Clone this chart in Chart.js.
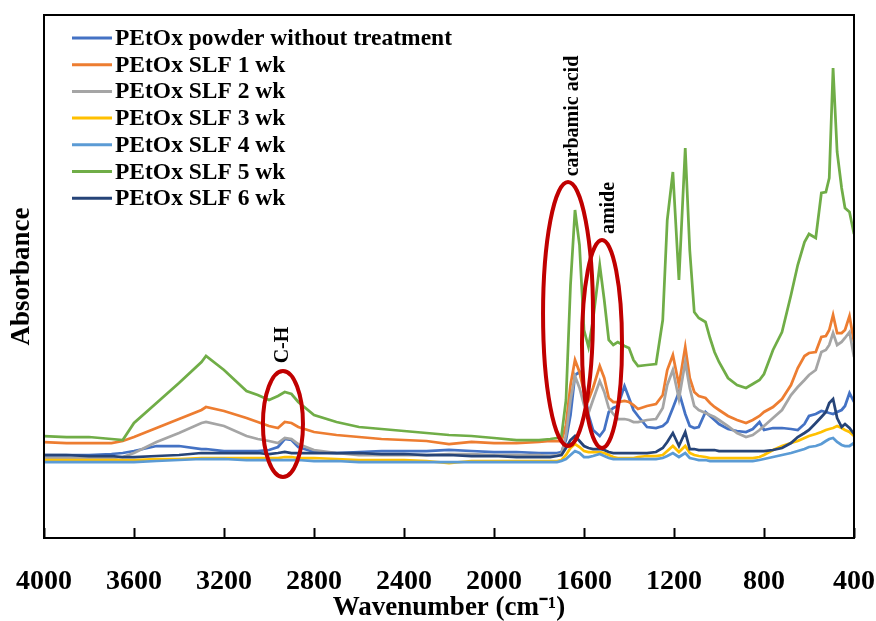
<!DOCTYPE html>
<html>
<head>
<meta charset="utf-8">
<title>PEtOx FTIR spectra</title>
<script src="https://cdn.jsdelivr.net/npm/chart.js@4.4.1/dist/chart.umd.min.js"></script>
<style>
  html, body { margin: 0; padding: 0; background: #fff; }
  #wrap { width: 876px; height: 621px; }
</style>
</head>
<body>
<div id="wrap"><canvas id="ftir-chart"></canvas></div>
<script>
var SERIF = "'Liberation Serif', 'Times New Roman', serif";

// wavenumber grid shared by every spectrum (cm-1)
var wavenumbers = [
  4000, 3900, 3800, 3700, 3650, 3600, 3500, 3400, 3300, 3280,
  3200, 3100, 3050, 3000, 2960, 2930, 2900, 2870, 2800, 2700,
  2600, 2500, 2400, 2300, 2200, 2100, 2000, 1900, 1800, 1750,
  1720, 1700, 1680, 1660, 1640, 1620, 1600, 1580, 1560, 1530,
  1510, 1490, 1470, 1450, 1420, 1400, 1380, 1360, 1320, 1280,
  1250, 1230, 1205, 1178, 1150, 1130, 1110, 1090, 1060, 1040,
  1020, 1000, 960, 920, 880, 850, 820, 800, 760, 720,
  680, 650, 620, 600, 570, 545, 525, 510, 493, 475,
  455, 440, 420, 400
];

// absorbance (arbitrary units)
var powder = [
  0.83, 0.83, 0.83, 0.84, 0.85, 0.87, 0.92, 0.92, 0.89, 0.89,
  0.87, 0.87, 0.87, 0.88, 0.91, 0.99, 0.98, 0.91, 0.86, 0.85,
  0.86, 0.87, 0.87, 0.87, 0.88, 0.87, 0.86, 0.86, 0.85, 0.85,
  0.85, 0.86, 0.98, 1.23, 1.63, 1.66, 1.51, 1.23, 1.08, 1.02,
  1.08, 1.26, 1.30, 1.32, 1.52, 1.40, 1.28, 1.22, 1.11, 1.10,
  1.12, 1.16, 1.30, 1.46, 1.24, 1.12, 1.10, 1.11, 1.26, 1.22,
  1.18, 1.14, 1.09, 1.07, 1.06, 1.09, 1.16, 1.08, 1.10, 1.10,
  1.09, 1.08, 1.14, 1.22, 1.24, 1.27, 1.26, 1.25, 1.24, 1.26,
  1.28, 1.32, 1.45, 1.36
];
var slf1wk = [
  0.96, 0.95, 0.95, 0.95, 0.97, 1.01, 1.10, 1.19, 1.28, 1.31,
  1.27, 1.20, 1.16, 1.12, 1.10, 1.16, 1.15, 1.11, 1.06, 1.03,
  1.01, 0.99, 0.98, 0.97, 0.94, 0.96, 0.95, 0.95, 0.96, 0.97,
  0.97, 0.97, 1.13, 1.53, 1.78, 1.66, 1.46, 1.38, 1.50, 1.72,
  1.60, 1.40, 1.36, 1.36, 1.37, 1.36, 1.33, 1.29, 1.32, 1.34,
  1.43, 1.68, 1.83, 1.53, 1.91, 1.60, 1.46, 1.42, 1.40, 1.35,
  1.31, 1.28, 1.22, 1.18, 1.15, 1.18, 1.22, 1.26, 1.31, 1.39,
  1.53, 1.70, 1.82, 1.85, 1.86, 2.01, 2.02, 2.08, 2.23, 2.05,
  2.05, 2.08, 2.22, 1.96
];
var slf2wk = [
  0.80, 0.80, 0.80, 0.80, 0.81, 0.85, 0.96, 1.05, 1.15, 1.16,
  1.12, 1.02, 0.99, 0.97, 0.95, 1.00, 0.99, 0.94, 0.88, 0.85,
  0.83, 0.83, 0.83, 0.83, 0.84, 0.84, 0.83, 0.83, 0.83, 0.82,
  0.83, 0.84, 1.03, 1.38, 1.62, 1.50, 1.33, 1.25, 1.38, 1.57,
  1.46, 1.30, 1.24, 1.19, 1.19, 1.18, 1.16, 1.16, 1.18, 1.19,
  1.30, 1.53, 1.68, 1.39, 1.76, 1.50, 1.32, 1.28, 1.25, 1.23,
  1.21, 1.18, 1.12, 1.05, 1.01, 1.03, 1.08, 1.12, 1.20, 1.28,
  1.43, 1.51, 1.58, 1.63, 1.68, 1.86, 1.88, 1.93, 2.05, 1.93,
  1.96, 2.00, 2.06, 1.81
];
var slf3wk = [
  0.78, 0.78, 0.78, 0.78, 0.78, 0.78, 0.79, 0.79, 0.80, 0.80,
  0.80, 0.80, 0.80, 0.80, 0.80, 0.81, 0.81, 0.80, 0.80, 0.79,
  0.78, 0.78, 0.78, 0.77, 0.75, 0.77, 0.77, 0.77, 0.77, 0.77,
  0.77, 0.78, 0.83, 0.90, 0.94, 0.91, 0.87, 0.86, 0.86, 0.86,
  0.85, 0.83, 0.81, 0.80, 0.80, 0.80, 0.80, 0.81, 0.82, 0.82,
  0.83, 0.87, 0.92, 0.86, 0.92, 0.85, 0.83, 0.82, 0.81, 0.80,
  0.80, 0.80, 0.80, 0.80, 0.80, 0.80, 0.81, 0.83, 0.88, 0.92,
  0.95, 0.97, 1.00, 1.02, 1.04, 1.06, 1.08, 1.09, 1.10, 1.12,
  1.10, 1.08, 1.06, 1.02
];
var slf4wk = [
  0.76, 0.76, 0.76, 0.76, 0.76, 0.76, 0.77, 0.78, 0.79, 0.79,
  0.79, 0.78, 0.78, 0.78, 0.78, 0.78, 0.78, 0.78, 0.77, 0.77,
  0.76, 0.76, 0.76, 0.76, 0.76, 0.76, 0.76, 0.76, 0.76, 0.76,
  0.76, 0.77, 0.79, 0.83, 0.87, 0.85, 0.81, 0.81, 0.82, 0.84,
  0.82, 0.80, 0.79, 0.79, 0.79, 0.79, 0.79, 0.79, 0.79, 0.79,
  0.80, 0.82, 0.85, 0.81, 0.85, 0.80, 0.79, 0.78, 0.78, 0.77,
  0.77, 0.77, 0.77, 0.77, 0.77, 0.77, 0.78, 0.79, 0.81, 0.83,
  0.85, 0.87, 0.89, 0.91, 0.92, 0.94, 0.97, 0.99, 1.00, 0.96,
  0.93, 0.92, 0.92, 0.95
];
var slf5wk = [
  1.02, 1.01, 1.01, 0.99, 0.98, 1.15, 1.35, 1.55, 1.76, 1.82,
  1.68, 1.47, 1.43, 1.38, 1.42, 1.46, 1.44, 1.36, 1.23, 1.16,
  1.11, 1.09, 1.07, 1.05, 1.03, 1.02, 1.00, 0.98, 0.98, 0.99,
  1.00, 1.02, 1.38, 2.53, 3.28, 2.93, 2.08, 1.91, 2.18, 2.73,
  2.38, 1.98, 1.93, 1.96, 1.92, 1.90, 1.78, 1.72, 1.73, 1.74,
  2.18, 3.18, 3.66, 2.58, 3.90, 2.88, 2.26, 2.20, 2.16, 2.00,
  1.86, 1.76, 1.60, 1.53, 1.50, 1.54, 1.58, 1.64, 1.88, 2.06,
  2.43, 2.73, 2.96, 3.04, 3.00, 3.45, 3.46, 3.60, 4.70, 3.86,
  3.50, 3.30, 3.26, 3.04
];
var slf6wk = [
  0.83, 0.83, 0.82, 0.82, 0.81, 0.81, 0.82, 0.83, 0.85, 0.85,
  0.85, 0.85, 0.85, 0.84, 0.85, 0.86, 0.85, 0.85, 0.85, 0.85,
  0.85, 0.84, 0.84, 0.83, 0.83, 0.82, 0.82, 0.81, 0.81, 0.81,
  0.82, 0.83, 0.90, 0.98, 1.02, 0.97, 0.92, 0.90, 0.89, 0.89,
  0.88, 0.86, 0.85, 0.85, 0.85, 0.85, 0.85, 0.85, 0.85, 0.86,
  0.90, 0.96, 1.05, 0.92, 1.06, 0.89, 0.89, 0.88, 0.88, 0.88,
  0.88, 0.87, 0.87, 0.87, 0.87, 0.87, 0.87, 0.87, 0.88, 0.90,
  0.95, 1.01, 1.05, 1.08, 1.15, 1.21, 1.26, 1.35, 1.39, 1.20,
  1.11, 1.14, 1.10, 1.04
];

var seriesLabels = [
  'PEtOx powder without treatment', 'PEtOx SLF 1 wk', 'PEtOx SLF 2 wk',
  'PEtOx SLF 3 wk', 'PEtOx SLF 4 wk', 'PEtOx SLF 5 wk', 'PEtOx SLF 6 wk'
];
var seriesValues = [powder, slf1wk, slf2wk, slf3wk, slf4wk, slf5wk, slf6wk];
var seriesColors = ['#4472C4', '#ED7D31', '#A5A5A5', '#FFC000', '#5B9BD5', '#70AD47', '#264478'];

var xTicks = [4000, 3600, 3200, 2800, 2400, 2000, 1600, 1200, 800, 400];

// marked bands: centre and half extents in data units, label anchor
var bands = [
  { label: 'carbamic acid', wn: 1671, abs: 2.24, dWn: 111, dAbs: 1.32, labelWn: 1649, labelAbs: 4.22 },
  { label: 'amide',         wn: 1520, abs: 1.94, dWn: 89,  dAbs: 1.04, labelWn: 1489, labelAbs: 3.30 },
  { label: 'C-H',           wn: 2938, abs: 1.14, dWn: 89,  dAbs: 0.53, labelWn: 2938, labelAbs: 1.93 }
];

var datasets = seriesValues.map(function(vals, i) {
  return {
    label: seriesLabels[i],
    data: vals.map(function(v, j) { return { x: wavenumbers[j], y: v }; }),
    borderColor: seriesColors[i],
    backgroundColor: seriesColors[i],
    borderWidth: 2.75,
    pointRadius: 0,
    tension: 0,
    fill: false,
    order: seriesValues.length - i
  };
});

// frame, inward ticks, band ellipses and the legend box
var decorations = {
  id: 'decorations',
  afterDatasetsDraw: function(chart) {
    var ctx = chart.ctx;
    var xs = chart.scales.x, ys = chart.scales.y;
    ctx.save();
    bands.forEach(function(b) {
      var cx = xs.getPixelForValue(b.wn);
      var cy = ys.getPixelForValue(b.abs);
      var rx = Math.abs(xs.getPixelForValue(b.wn + b.dWn) - cx);
      var ry = Math.abs(ys.getPixelForValue(b.abs + b.dAbs) - cy);
      ctx.strokeStyle = '#C00000';
      ctx.lineWidth = 4;
      ctx.beginPath();
      ctx.ellipse(cx, cy, rx, ry, 0, 0, Math.PI * 2);
      ctx.stroke();

      ctx.save();
      ctx.translate(xs.getPixelForValue(b.labelWn), ys.getPixelForValue(b.labelAbs));
      ctx.rotate(-Math.PI / 2);
      ctx.fillStyle = '#000';
      ctx.font = 'bold 20px ' + SERIF;
      ctx.textAlign = 'center';
      ctx.textBaseline = 'middle';
      ctx.fillText(b.label, 0, 0);
      ctx.restore();
    });
    ctx.restore();
  },
  afterDraw: function(chart) {
    var ctx = chart.ctx, a = chart.chartArea;
    var xs = chart.scales.x;
    ctx.save();
    ctx.strokeStyle = '#000';
    ctx.lineWidth = 2;
    ctx.strokeRect(a.left, a.top, a.right - a.left, a.bottom - a.top);
    xTicks.forEach(function(t) {
      var px = Math.round(xs.getPixelForValue(t)) + 0.5;
      ctx.beginPath();
      ctx.moveTo(px, a.bottom);
      ctx.lineTo(px, a.bottom - 10);
      ctx.stroke();
    });

    // legend
    ctx.font = 'bold 23.5px ' + SERIF;
    ctx.textBaseline = 'middle';
    ctx.textAlign = 'left';
    chart.data.datasets.forEach(function(ds, i) {
      var y = a.top + 23 + i * 26.7;
      ctx.strokeStyle = ds.borderColor;
      ctx.lineWidth = 3;
      ctx.beginPath();
      ctx.moveTo(a.left + 28, y);
      ctx.lineTo(a.left + 68, y);
      ctx.stroke();
      ctx.fillStyle = '#000';
      ctx.fillText(ds.label, a.left + 71, y + 1);
    });
    ctx.restore();
  }
};

new Chart(document.getElementById('ftir-chart'), {
  type: 'line',
  data: { datasets: datasets },
  options: {
    responsive: true,
    maintainAspectRatio: false,
    animation: false,
    layout: { padding: { left: 0, right: 22, top: 15, bottom: 0 } },
    plugins: {
      legend: { display: false },
      tooltip: { enabled: false }
    },
    scales: {
      x: {
        type: 'linear',
        reverse: true,
        min: 400,
        max: 4000,
        grid: { display: false, drawTicks: false },
        border: { display: false },
        afterBuildTicks: function(scale) {
          scale.ticks = xTicks.map(function(v) { return { value: v }; });
        },
        afterFit: function(scale) {
          scale.height = 83;
          // end labels may overhang the plot edges
          scale.paddingLeft = 0;
          scale.paddingRight = 0;
        },
        ticks: {
          color: '#000',
          padding: 27,
          maxRotation: 0,
          autoSkip: false,
          callback: function(v) { return String(v); },
          font: { family: SERIF, size: 28, weight: 'bold' }
        },
        title: {
          display: true,
          text: 'Wavenumber (cm\u207B\u00B9)',
          color: '#000',
          padding: { top: 0, bottom: -1 },
          font: { family: SERIF, size: 27, weight: 'bold', lineHeight: 1 }
        }
      },
      y: {
        min: 0,
        max: 5.23,
        grid: { display: false, drawTicks: false },
        border: { display: false },
        ticks: { display: false },
        afterFit: function(scale) { scale.width = 44; },
        title: {
          display: true,
          text: 'Absorbance',
          color: '#000',
          padding: { top: 9, bottom: 0 },
          font: { family: SERIF, size: 27, weight: 'bold', lineHeight: 1 }
        }
      }
    }
  },
  plugins: [decorations]
});
</script>
</body>
</html>
